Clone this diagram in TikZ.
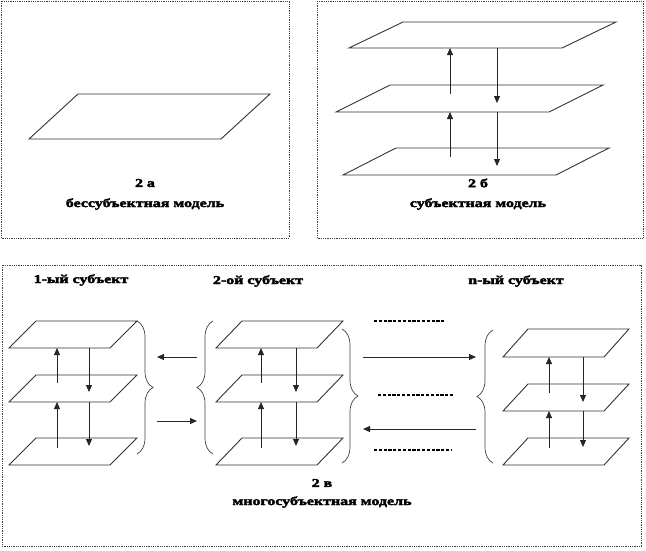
\documentclass[tikz,border=0pt]{standalone}
\usepackage{fontspec}
\newfontfamily\capfont[FakeStretch=1.33,FakeBold=3]{Liberation Serif}
\usetikzlibrary{arrows.meta,decorations.pathreplacing}
\tikzset{
  panel/.style={draw=black!75,line width=0.6pt,dash pattern=on 1pt off 0.8pt},
  planeline/.style={draw=black!80,line width=0.9pt},
  flow/.style={draw=black!85,line width=0.8pt,-{Triangle[length=7pt,width=6pt]}},
  brc/.style={draw=black!75,line width=0.7pt,decorate,decoration={brace,amplitude=16pt}},
  dotrow/.style={draw=black,line width=1.5pt,dash pattern=on 3.2pt off 1.6pt},
  captxt/.style={font=\capfont\bfseries\fontsize{12}{14}\selectfont,inner sep=0pt}
}
\newcommand{\pln}[6]{%
  \draw[planeline] (#2,#3) coordinate (#1-bl) -- ++(#4,0) coordinate (#1-br)
    -- ++(#5,-#6) coordinate (#1-tr) -- ++(-#4,0) coordinate (#1-tl) -- cycle;}
\begin{document}
\begin{tikzpicture}[x=1pt,y=-1pt]
\useasboundingbox (0,0) rectangle (646,550);
% panels
\draw[panel] (1,1) rectangle (289,238);
\draw[panel] (317,1) rectangle (643,238);
\draw[panel] (2,265) rectangle (641,546);
% panel a
\pln{a}{29}{139}{192}{49}{45}
\node[captxt] (a1) at (145,183) {2 а};
\node[captxt] (a2) at (145,204) {бессубъектная модель};
% panel b
\pln{b1}{349}{48}{213}{54}{26}
\pln{b2}{336}{112}{213}{54}{27}
\pln{b3}{343}{175}{213}{53}{27}
\coordinate (bu1s) at (450,94);  \coordinate (bu1e) at (450,48);
\coordinate (bu2s) at (450,157); \coordinate (bu2e) at (450,112);
\coordinate (bd1s) at (497,48);  \coordinate (bd1e) at (497,103);
\coordinate (bd2s) at (497,112); \coordinate (bd2e) at (497,166);
\draw[flow] (bu1s) -- (bu1e);
\draw[flow] (bu2s) -- (bu2e);
\draw[flow] (bd1s) -- (bd1e);
\draw[flow] (bd2s) -- (bd2e);
\node[captxt] (b1t) at (478,183) {2 б};
\node[captxt] (b2t) at (478,204) {субъектная модель};
% panel c: subject 1
\node[captxt] (s1) at (81,280) {1-ый субъект};
\pln{p11}{9}{348}{101}{27}{27}
\pln{p12}{9}{402}{101}{27}{27}
\pln{p13}{9}{465}{101}{27}{27}
\coordinate (u11s) at (57,383); \coordinate (u11e) at (57,348);
\coordinate (u12s) at (57,448); \coordinate (u12e) at (57,402);
\coordinate (d11s) at (89,348); \coordinate (d11e) at (89,392);
\coordinate (d12s) at (89,402); \coordinate (d12e) at (89,446);
\draw[flow] (u11s) -- (u11e);
\draw[flow] (u12s) -- (u12e);
\draw[flow] (d11s) -- (d11e);
\draw[flow] (d12s) -- (d12e);
% subject 2
\node[captxt] (s2) at (258,281) {2-ой субъект};
\pln{p21}{216}{348}{101}{26}{27}
\pln{p22}{216}{402}{101}{26}{27}
\pln{p23}{216}{465}{101}{26}{27}
\coordinate (u21s) at (261,383); \coordinate (u21e) at (261,348);
\coordinate (u22s) at (261,448); \coordinate (u22e) at (261,402);
\coordinate (d21s) at (296,348); \coordinate (d21e) at (296,392);
\coordinate (d22s) at (296,402); \coordinate (d22e) at (296,446);
\draw[flow] (u21s) -- (u21e);
\draw[flow] (u22s) -- (u22e);
\draw[flow] (d21s) -- (d21e);
\draw[flow] (d22s) -- (d22e);
% subject n
\node[captxt] (sn) at (516,281) {n-ый субъект};
\pln{p31}{503}{357}{101}{25}{28}
\pln{p32}{503}{411}{101}{25}{27}
\pln{p33}{503}{465}{101}{25}{27}
\coordinate (u31s) at (549,393); \coordinate (u31e) at (549,357);
\coordinate (u32s) at (549,448); \coordinate (u32e) at (549,411);
\coordinate (d31s) at (583,357); \coordinate (d31e) at (583,402);
\coordinate (d32s) at (583,411); \coordinate (d32e) at (583,447);
\draw[flow] (u31s) -- (u31e);
\draw[flow] (u32s) -- (u32e);
\draw[flow] (d31s) -- (d31e);
\draw[flow] (d32s) -- (d32e);
% braces
\coordinate (br1t) at (137,321); \coordinate (br1b) at (137,454);
\coordinate (br2t) at (213,321); \coordinate (br2b) at (213,454);
\coordinate (br3t) at (342,329); \coordinate (br3b) at (342,463);
\coordinate (br4t) at (493,330); \coordinate (br4b) at (493,463);
\draw[brc] (br1t) -- (br1b);
\draw[brc] (br2b) -- (br2t);
\draw[brc] (br3t) -- (br3b);
\draw[brc] (br4b) -- (br4t);
% exchange arrows
\coordinate (e1a) at (197,357); \coordinate (e1b) at (157,357);
\coordinate (e2a) at (157,421); \coordinate (e2b) at (197,421);
\coordinate (e3a) at (363,357); \coordinate (e3b) at (476,357);
\coordinate (e4a) at (476,429); \coordinate (e4b) at (363,429);
\draw[flow] (e1a) -- (e1b);
\draw[flow] (e2a) -- (e2b);
\draw[flow] (e3a) -- (e3b);
\draw[flow] (e4a) -- (e4b);
% dotted rows
\coordinate (t1a) at (374,321); \coordinate (t1b) at (445,321);
\coordinate (t2a) at (378,395); \coordinate (t2b) at (453,395);
\coordinate (t3a) at (374,450); \coordinate (t3b) at (452,450);
\draw[dotrow] (t1a) -- (t1b);
\draw[dotrow] (t2a) -- (t2b);
\draw[dotrow] (t3a) -- (t3b);
\node[captxt] (c1) at (322,483) {2 в};
\node[captxt] (c2) at (322,502) {многосубъектная модель};
\end{tikzpicture}
\end{document}
